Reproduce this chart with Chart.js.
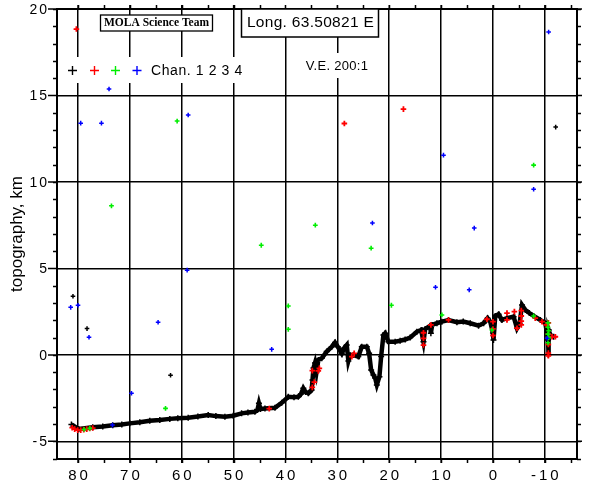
<!DOCTYPE html>
<html>
<head>
<meta charset="utf-8">
<script src="https://cdn.jsdelivr.net/npm/chart.js@4.4.0/dist/chart.umd.min.js"></script>
<style>
  html, body { margin: 0; padding: 0; background: #ffffff; }
  canvas { display: block; }
</style>
</head>
<body>
<canvas id="c" width="600" height="480"></canvas>
<script>
// ---- axis ticks (degrees longitude / km) ----
const xTickValues = [80, 70, 60, 50, 40, 30, 20, 10, 0, -10];
const xTickLabels = ['80', '70', '60', '50', '40', '30', '20', '10', '0', '-10'];
const yTickValues = [-5, 0, 5, 10, 15, 20];
const yTickLabels = ['-5', '0', '5', '10', '15', '20'];

// ---- main MOLA profile (channel 1, dense track) ----
const profileLon = [81.27, 79.86, 77.16, 75.23, 73.30, 71.56, 70.02, 68.09, 66.16, 64.23, 62.30, 60.76, 58.76, 56.89, 54.90, 53.42, 51.68, 50.08, 48.46, 47.24, 45.89, 45.41, 45.12, 44.83, 43.96, 42.03, 40.73, 39.46, 38.36, 37.53, 37.01, 36.56, 36.14, 35.60, 34.95, 34.79, 34.60, 34.31, 34.02, 33.67, 33.01, 32.05, 31.08, 30.45, 29.92, 29.15, 28.68, 28.19, 27.88, 27.56, 26.92, 25.96, 25.29, 24.32, 23.88, 23.49, 23.05, 22.72, 22.39, 21.89, 21.56, 21.12, 20.79, 20.15, 18.86, 17.90, 16.93, 15.97, 14.67, 13.84, 13.40, 13.07, 12.11, 11.97, 11.72, 10.81, 9.85, 8.57, 6.95, 5.73, 4.38, 2.78, 1.81, 1.04, 0.52, 0.00, -0.10, -0.44, -1.08, -1.74, -2.70, -3.98, -4.63, -5.14, -5.60, -6.24, -7.01, -7.84, -9.13, -10.10, -10.62, -10.68, -10.77, -11.06, -11.70];
const profileTopo = [-4.02, -4.29, -4.19, -4.14, -4.07, -4.02, -3.96, -3.90, -3.81, -3.77, -3.70, -3.67, -3.63, -3.56, -3.48, -3.54, -3.58, -3.52, -3.38, -3.33, -3.29, -3.19, -2.80, -3.13, -3.10, -3.06, -2.77, -2.42, -2.45, -2.42, -2.26, -1.93, -2.15, -2.22, -2.03, -1.45, -0.76, -0.47, -0.99, -0.30, -0.20, 0.19, 0.47, 0.71, 0.47, 0.09, 0.40, 0.57, -0.35, -0.01, -0.01, -0.10, 0.47, 0.47, 0.09, -0.87, -1.16, -1.34, -1.74, -1.26, -0.10, 1.15, 1.25, 0.76, 0.76, 0.82, 0.89, 1.00, 1.34, 1.44, 0.76, 1.50, 1.69, 1.25, 1.73, 1.83, 1.92, 2.02, 1.89, 1.93, 1.83, 1.69, 1.83, 2.12, 1.92, 1.27, 0.86, 2.25, 2.35, 2.02, 2.12, 2.21, 1.54, 1.83, 2.89, 2.60, 2.42, 2.25, 2.02, 1.83, 0.86, -0.01, 1.44, 1.15, 1.05];

// ---- channel 1 stray returns (black) ----
const ch1Lon = [-12.09, 80.97, 78.26, 62.16];
const ch1Topo = [13.17, 3.39, 1.52, -1.18];

// ---- channel 2 (red) ----
const ch2Lon = [81.12, 80.64, 80.06, 79.48, 78.90, 78.32, 77.74, 77.16, 80.31, 17.26, 28.65, 43.13, 34.83, 34.83, 34.44, 33.67, 33.47, 27.22, 26.76, 13.40, 13.40, 13.40, 11.97, 8.57, 1.16, 0.00, 0.00, 0.00, -2.70, -2.70, -4.13, -4.63, -5.46, -5.46, -5.46, -5.46, -8.16, -9.46, -10.29, -10.68, -10.68, -10.68, -10.68, -10.68, -11.39, -12.03];
const ch2Topo = [-4.21, -4.29, -4.35, -4.35, -4.32, -4.29, -4.26, -4.23, 18.84, 14.21, 13.38, -3.11, -0.91, -1.88, -1.57, -0.93, -0.78, -0.10, 0.09, 1.28, 0.96, 0.57, 1.73, 2.02, 2.06, 1.92, 1.50, 1.12, 2.42, 2.02, 2.50, 1.54, 2.56, 2.25, 1.95, 1.73, 2.12, 1.92, 1.73, 1.85, 1.20, 0.60, 0.10, -0.05, 1.05, 1.05];

// ---- channel 3 (green) ----
const ch3Lon = [60.89, 73.55, 44.67, 34.25, 23.49, -7.84, 39.46, 39.46, 63.13, 19.58, 9.85, 78.84, 77.74, 0.19, -7.84, -10.60, -10.60, -10.75, -10.60, -10.75, -10.60];
const ch3Topo = [13.52, 8.62, 6.34, 7.50, 6.17, 10.97, 2.83, 1.48, -3.09, 2.87, 2.31, -4.31, -4.25, 1.44, 2.25, 1.85, 1.60, 1.40, 1.20, 1.00, 0.70];

// ---- channel 4 (blue) ----
const ch4Lon = [74.02, 58.76, -10.73, 79.48, 75.48, 58.96, 9.54, -7.84, 23.24, 3.61, 11.08, 4.58, 81.41, 80.00, 77.88, 64.56, 69.69, 42.66, 73.36, -10.43];
const ch4Topo = [15.37, 13.87, 18.67, 13.40, 13.40, 4.90, 11.55, 9.58, 7.63, 7.33, 3.91, 3.76, 2.75, 2.87, 1.02, 1.89, -2.22, 0.32, -4.06, 0.96];

const channelColors = ['#000000', '#ff0000', '#00ee00', '#0000ff'];
const channelNames = ['1', '2', '3', '4'];

function pts(xs, ys) { return xs.map((x, i) => ({ x: x, y: ys[i] })); }

// minor tick positions (every 5 deg, every 1 km)
const xMinor = []; for (let v = 80; v >= -15; v -= 5) xMinor.push(v);
const yMinor = []; for (let v = -6; v <= 20; v += 1) yMinor.push(v);

function setLS(ctx, px) { if ('letterSpacing' in ctx) ctx.letterSpacing = px + 'px'; }

const decor = {
  id: 'decor',
  afterDraw(chart) {
    const ctx = chart.ctx, ca = chart.chartArea;
    const xs = chart.scales.x, ys = chart.scales.y;
    ctx.save();
    ctx.strokeStyle = '#000';
    ctx.lineCap = 'butt';
    // frame
    ctx.lineWidth = 2;
    ctx.strokeRect(ca.left, ca.top, ca.right - ca.left, ca.bottom - ca.top);
    // tick marks (outward)
    ctx.lineWidth = 1.5;
    ctx.beginPath();
    xMinor.forEach(v => {
      const p = Math.round(xs.getPixelForValue(v)) + 0.5;
      ctx.moveTo(p, ca.bottom); ctx.lineTo(p, ca.bottom + 4);
      ctx.moveTo(p, ca.top); ctx.lineTo(p, ca.top - 4);
    });
    yMinor.forEach(v => {
      const p = Math.round(ys.getPixelForValue(v)) + 0.5;
      ctx.moveTo(ca.left - 4, p); ctx.lineTo(ca.left, p);
      ctx.moveTo(ca.right, p); ctx.lineTo(ca.right + 4, p);
    });
    yTickValues.forEach(v => {
      const p = ys.getPixelForValue(v);
      ctx.moveTo(ca.left - 9, p); ctx.lineTo(ca.left, p);
      ctx.moveTo(ca.right, p); ctx.lineTo(ca.right + 5, p);
    });
    xTickValues.forEach(v => {
      const p = xs.getPixelForValue(v);
      ctx.moveTo(p, ca.bottom); ctx.lineTo(p, ca.bottom + 4);
      ctx.moveTo(p, ca.top); ctx.lineTo(p, ca.top - 4);
    });
    ctx.stroke();

    // tick labels
    ctx.fillStyle = '#000';
    ctx.font = '15px "Liberation Sans", Arial, sans-serif';
    ctx.textAlign = 'center';
    ctx.textBaseline = 'alphabetic';
    setLS(ctx, 3);
    xTickValues.forEach((v, i) => {
      ctx.fillText(xTickLabels[i], xs.getPixelForValue(v) + 1.5, ca.bottom + 21);
    });
    ctx.font = '14px "Liberation Sans", Arial, sans-serif';
    ctx.textAlign = 'right';
    setLS(ctx, 2);
    yTickValues.forEach((v, i) => {
      ctx.fillText(yTickLabels[i], ca.left - 10 + 2, ys.getPixelForValue(v) + 5);
    });

    // legend: + + + + Chan. 1 2 3 4
    ctx.fillStyle = '#fff';
    ctx.fillRect(62, 57, 184, 26);
    const legX = [72.5, 94.5, 115.5, 137];
    const legY = 70.5;
    ctx.lineWidth = 1.4;
    channelColors.forEach((c, i) => {
      ctx.strokeStyle = c;
      ctx.beginPath();
      ctx.moveTo(legX[i] - 4.5, legY); ctx.lineTo(legX[i] + 4.5, legY);
      ctx.moveTo(legX[i], legY - 4.5); ctx.lineTo(legX[i], legY + 4.5);
      ctx.stroke();
    });
    ctx.fillStyle = '#000';
    ctx.font = '14px "Liberation Sans", Arial, sans-serif';
    ctx.textAlign = 'left';
    ctx.textBaseline = 'middle';
    setLS(ctx, 0.6);
    ctx.fillText('Chan. ' + channelNames.join(' '), 151, legY + 0.5);

    // V.E. label
    ctx.fillStyle = '#fff';
    ctx.fillRect(300, 53, 73, 25);
    ctx.fillStyle = '#000';
    ctx.font = '13px "Liberation Sans", Arial, sans-serif';
    ctx.textAlign = 'center';
    setLS(ctx, 0.3);
    ctx.fillText('V.E. 200:1', 337, 66);

    // Longitude box
    ctx.fillStyle = '#fff';
    ctx.fillRect(241.5, ca.top, 137, 28);
    ctx.strokeStyle = '#000';
    ctx.lineWidth = 1.5;
    ctx.strokeRect(241.5, ca.top, 137, 28);
    ctx.fillStyle = '#000';
    ctx.font = '15.5px "Liberation Sans", Arial, sans-serif';
    setLS(ctx, 0.3);
    ctx.fillText('Long. 63.50821 E', 310.5, ca.top + 13.5);

    // MOLA Science Team box
    ctx.fillStyle = '#fff';
    ctx.fillRect(100.5, 15, 112, 16);
    ctx.lineWidth = 1.3;
    ctx.strokeRect(100.5, 15, 112, 16);
    ctx.fillStyle = '#000';
    ctx.font = 'bold 11.5px "Liberation Serif", "Times New Roman", serif';
    setLS(ctx, 0);
    ctx.fillText('MOLA Science Team', 156.5, 23.5);
    ctx.restore();
  }
};

const crossPt = (color, r, w) => ({
  borderColor: color, backgroundColor: color, pointStyle: 'cross',
  pointRadius: r, pointBorderWidth: w, pointHoverRadius: r, showLine: false
});

new Chart(document.getElementById('c'), {
  type: 'scatter',
  data: {
    datasets: [
      Object.assign({ label: 'Chan. 4', data: pts(ch4Lon, ch4Topo), order: 1 }, crossPt(channelColors[3], 2.3, 1.5)),
      Object.assign({ label: 'Chan. 3', data: pts(ch3Lon, ch3Topo), order: 2 }, crossPt(channelColors[2], 2.4, 1.6)),
      Object.assign({ label: 'Chan. 2', data: pts(ch2Lon, ch2Topo), order: 3 }, crossPt(channelColors[1], 2.8, 1.8)),
      Object.assign({ label: 'Chan. 1 stray', data: pts(ch1Lon, ch1Topo), order: 4 }, crossPt(channelColors[0], 2.3, 1.5)),
      {
        label: 'Chan. 1', data: pts(profileLon, profileTopo), order: 5,
        showLine: true, borderColor: '#000', backgroundColor: '#000', borderWidth: 4.5,
        tension: 0, pointStyle: 'cross', pointRadius: 3, pointBorderWidth: 1.5,
        pointBorderColor: '#000'
      }
    ]
  },
  options: {
    responsive: false,
    devicePixelRatio: 1,
    animation: false,
    layout: { padding: { left: 0, right: 23, top: 9, bottom: 0 } },
    plugins: { legend: { display: false }, tooltip: { enabled: false } },
    scales: {
      x: {
        type: 'linear', reverse: true, min: -16.2, max: 84.05,
        afterBuildTicks: s => { s.ticks = xTickValues.map(v => ({ value: v })); },
        afterFit: s => { s.height = 21; },
        ticks: { display: false },
        grid: { color: '#000', lineWidth: 1.5, drawTicks: false },
        border: { display: false }
      },
      y: {
        type: 'linear', min: -6.02, max: 20,
        afterBuildTicks: s => { s.ticks = yTickValues.map(v => ({ value: v })); },
        afterFit: s => { s.width = 57; },
        ticks: { display: false },
        grid: { color: '#000', lineWidth: 1.5, drawTicks: false },
        border: { display: false },
        title: {
          display: true, text: 'topography, km', color: '#000',
          font: { family: '"Liberation Sans", Arial, sans-serif', size: 17 },
          padding: { top: 7, bottom: 0 }
        }
      }
    }
  },
  plugins: [decor]
});
</script>
</body>
</html>
